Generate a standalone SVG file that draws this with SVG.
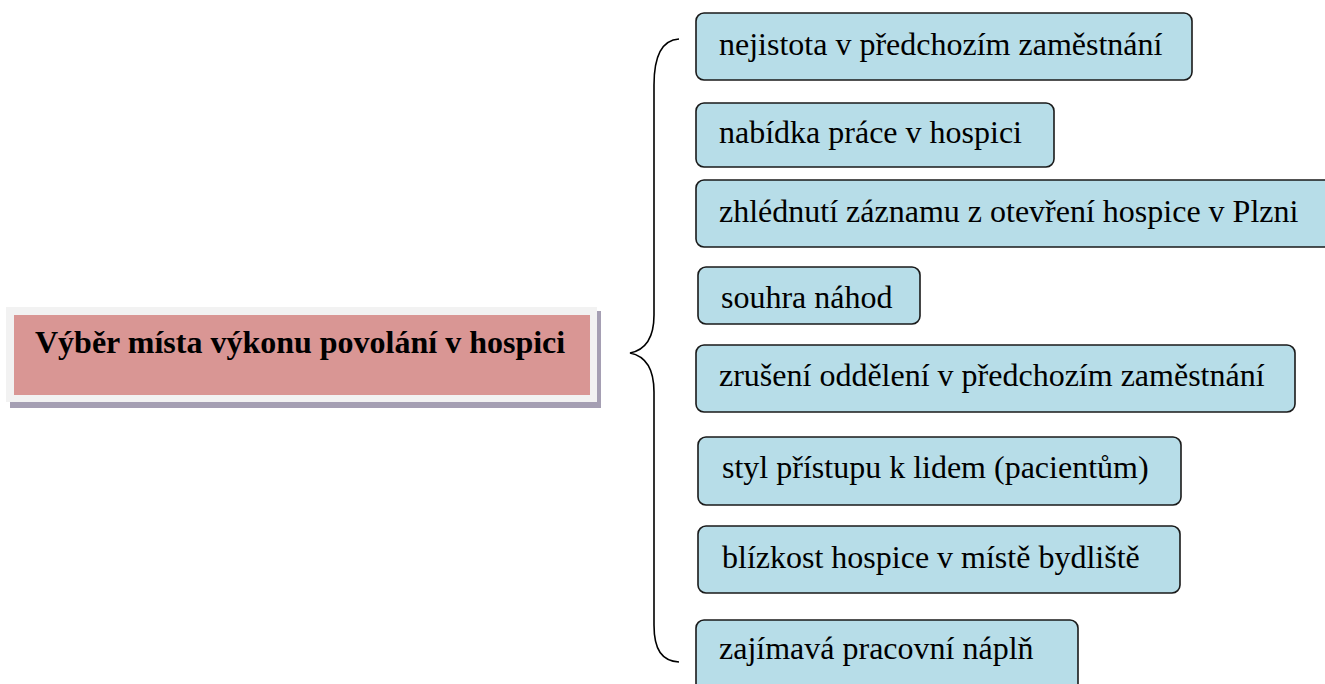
<svg xmlns="http://www.w3.org/2000/svg" width="1325" height="684" viewBox="0 0 1325 684">
  <style>
    .item rect { fill: #b7dde8; stroke: #1a1a1a; stroke-width: 1.6; }
    .item text { font-family: "Liberation Serif", "Times New Roman", serif; font-size: 32px; fill: #000; }
    .brace { fill: none; stroke: #000; stroke-width: 1.6; }
    .title { font-family: "Liberation Serif", "Times New Roman", serif; font-size: 32px; font-weight: bold; fill: #000; }
  </style>
  <rect width="1325" height="684" fill="#ffffff"/>

  <!-- central topic -->
  <g id="topic">
    <rect x="10" y="311" width="591" height="97" fill="#a59fb3"/>
    <rect x="6" y="307" width="591" height="95" fill="#f2f2f2"/>
    <rect x="14" y="315" width="576" height="80" fill="#d99694"/>
    <text class="title" x="35" y="353">Výběr místa výkonu povolání v hospici</text>
  </g>

  <!-- curly brace joining the topic to the reasons -->
  <g id="connectors">
    <path class="brace" d="M679,39 C662,40 654,55 654,85 L654,315 C654,338 645,350 630,353 C645,356 654,368 654,392 L654,625 C654,650 662,661 679,662"/>
  </g>

  <!-- reasons -->
  <g id="reason1" class="item">
    <rect x="696" y="13" width="496" height="67" rx="8"/>
    <text x="719" y="55">nejistota v předchozím zaměstnání</text>
  </g>
  <g id="reason2" class="item">
    <rect x="696" y="103" width="358" height="64" rx="8"/>
    <text x="719" y="143">nabídka práce v hospici</text>
  </g>
  <g id="reason3" class="item">
    <rect x="696" y="180" width="650" height="67" rx="8"/>
    <text x="719" y="222">zhlédnutí záznamu z otevření hospice v Plzni</text>
  </g>
  <g id="reason4" class="item">
    <rect x="698" y="267" width="222" height="57" rx="8"/>
    <text x="721" y="308">souhra náhod</text>
  </g>
  <g id="reason5" class="item">
    <rect x="696" y="345" width="599" height="67" rx="8"/>
    <text x="719" y="386">zrušení oddělení v předchozím zaměstnání</text>
  </g>
  <g id="reason6" class="item">
    <rect x="698" y="437" width="483" height="68" rx="8"/>
    <text x="722" y="478">styl přístupu k lidem (pacientům)</text>
  </g>
  <g id="reason7" class="item">
    <rect x="698" y="526" width="482" height="67" rx="8"/>
    <text x="722" y="568">blízkost hospice v místě bydliště</text>
  </g>
  <g id="reason8" class="item">
    <rect x="696" y="620" width="382" height="72" rx="8"/>
    <text x="719" y="659">zajímavá pracovní náplň</text>
  </g>
</svg>
